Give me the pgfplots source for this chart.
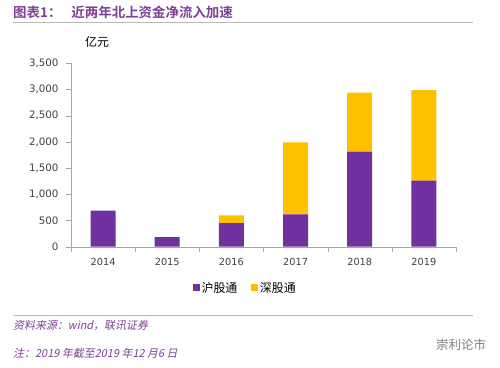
\documentclass[border=0pt]{standalone}
\usepackage{pgfplots}
\pgfplotsset{compat=1.18}
\usepackage{fontspec}
\setmainfont{DejaVu Sans}
\newfontfamily\cjk{Noto Sans CJK SC}
\newfontfamily\cjkb{Noto Sans CJK SC Bold}
\newfontfamily\cjkit[FakeSlant=0.2]{Noto Sans CJK SC}
\definecolor{hgt}{HTML}{7030A0}
\definecolor{sgt}{HTML}{FFC000}
\definecolor{ttl}{HTML}{7F3F98}
\definecolor{axgray}{HTML}{A6A6A6}
\definecolor{txt}{HTML}{404040}
\begin{document}
\begin{tikzpicture}
\fill[white] (0bp,0bp) rectangle (500bp,-368bp);
% title
\node[anchor=west, text=ttl, font=\cjkb\fontsize{13.5}{15}\selectfont, inner sep=0] at (13bp,-12bp) {图表1：\hspace{10bp}近两年北上资金净流入加速};
\draw[axgray!80, line width=0.8bp] (13bp,-22bp) -- (473bp,-22bp);
\node[anchor=west, font=\cjk\fontsize{12}{14}\selectfont, inner sep=0] at (85bp,-42bp) {亿元};
\begin{axis}[
  at={(71bp,-246.7bp)}, anchor=south west,
  scale only axis, width=385bp, height=183.4bp,
  xmin=-0.5, xmax=5.5, ymin=0, ymax=3500,
  ybar stacked, bar width=25bp,
  axis lines=left, axis line style={axgray, -},
  xtick={0,1,2,3,4,5},
  xticklabels={2014,2015,2016,2017,2018,2019},
  major x tick style={draw=none},
  minor xtick={-0.5,0.5,1.5,2.5,3.5,4.5,5.5},
  minor x tick style={axgray},
  minor tick length=5bp,
  ytick={0,500,...,3500},
  y tick style={axgray},
  major tick length=5bp,
  tick align=outside,
  scaled y ticks=false,
  /pgf/number format/assume math mode=true,
  /pgf/number format/1000 sep={,},
  yticklabel style={font=\fontsize{10.3}{12}\selectfont, text=txt, xshift=-4bp},
  xticklabel style={font=\fontsize{9.8}{11}\selectfont, text=txt, yshift=-3bp},
  legend style={at={(0.453,-0.225)}, anchor=center, draw=none, fill=none,
    legend columns=2, font=\cjk\fontsize{12}{14}\selectfont,
    /tikz/every even column/.append style={column sep=12bp}},
  legend image code/.code={\fill[#1] (0bp,-3bp) rectangle (6.5bp,3.5bp);},
]
\addplot[fill=hgt, draw=none] coordinates {(0,687) (1,185) (2,452) (3,618) (4,1813) (5,1260)};
\addplot[fill=sgt, draw=none] coordinates {(0,0) (1,0) (2,147) (3,1374) (4,1126) (5,1730)};
\legend{沪股通,深股通}
\end{axis}
\draw[axgray!80, line width=0.8bp] (13bp,-315bp) -- (473bp,-315bp);
\node[anchor=west, text=ttl, font=\cjkit\fontsize{11}{13}\selectfont, inner sep=0] at (13bp,-325bp) {资料来源：wind，联讯证券};
\node[anchor=west, text=ttl, font=\cjkit\fontsize{11}{13}\selectfont, inner sep=0] at (13bp,-353bp) {注：2019 年截至2019 年12 月6 日};
\node[anchor=west, text=gray, font=\cjk\fontsize{12.5}{14}\selectfont, inner sep=0] at (436bp,-345bp) {崇利论市};
\end{tikzpicture}
\end{document}
